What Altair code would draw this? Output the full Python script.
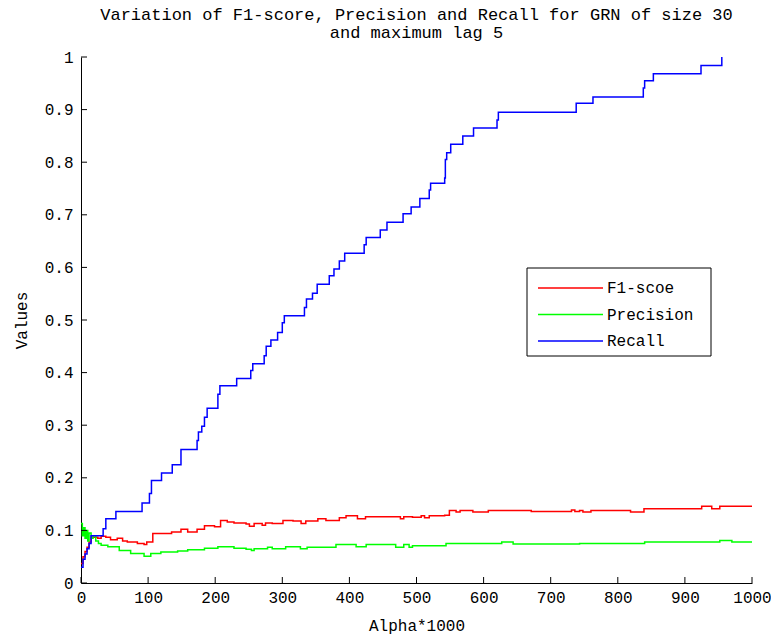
import altair as alt
import pandas as pd

# ---- data ----
recall_x = [0, 3, 6, 9, 12, 15, 33, 37, 52, 91, 102, 105, 120, 136, 149, 173, 175, 180, 184, 188,
            204, 207, 232, 253, 256, 273, 276, 283, 293, 300, 303, 333, 336, 345, 352, 370, 377,
            385, 393, 422, 425, 446, 456, 480, 492, 505, 519, 521, 542, 543, 545, 551, 569, 585,
            620, 622, 738, 763, 838, 840, 853, 924, 955]
recall_y = [0.030, 0.045, 0.055, 0.065, 0.075, 0.090, 0.103, 0.122, 0.136, 0.152, 0.170, 0.195,
            0.209, 0.225, 0.254, 0.271, 0.287, 0.298, 0.315, 0.332, 0.359, 0.375, 0.389, 0.404,
            0.417, 0.432, 0.450, 0.462, 0.476, 0.495, 0.508, 0.524, 0.540, 0.551, 0.568, 0.584,
            0.597, 0.612, 0.627, 0.643, 0.657, 0.671, 0.686, 0.702, 0.715, 0.731, 0.747, 0.760,
            0.770, 0.805, 0.818, 0.834, 0.850, 0.865, 0.880, 0.895, 0.912, 0.924, 0.941, 0.955,
            0.968, 0.984, 1.000]

f1_x = [0, 3, 6, 9, 12, 15, 25, 30, 37, 44, 54, 62, 69, 84, 94, 98, 107, 127, 135, 149, 159, 173,
        184, 199, 208, 218, 228, 246, 251, 258, 270, 275, 285, 301, 316, 328, 335, 353, 365, 385,
        395, 412, 424, 476, 481, 494, 507, 512, 519, 542, 549, 559, 565, 584, 607, 671, 731, 736,
        743, 748, 760, 819, 839, 925, 940, 952, 1000]
f1_y = [0.037, 0.050, 0.060, 0.068, 0.078, 0.087, 0.085, 0.089, 0.087, 0.082, 0.085, 0.080, 0.078,
        0.075, 0.073, 0.078, 0.094, 0.094, 0.097, 0.102, 0.097, 0.102, 0.109, 0.107, 0.119, 0.116,
        0.114, 0.112, 0.108, 0.113, 0.110, 0.114, 0.113, 0.119, 0.118, 0.113, 0.118, 0.122, 0.119,
        0.124, 0.128, 0.122, 0.126, 0.122, 0.126, 0.125, 0.128, 0.124, 0.128, 0.129, 0.138, 0.135,
        0.138, 0.135, 0.138, 0.136, 0.139, 0.136, 0.138, 0.135, 0.138, 0.135, 0.141, 0.146, 0.141,
        0.146, 0.146]

prec_x = [0, 2, 4, 6, 8, 10, 12, 15, 18, 22, 26, 30, 40, 57, 74, 94, 104, 119, 144, 159, 184, 204,
          228, 246, 254, 258, 278, 285, 305, 327, 337, 380, 410, 425, 469, 481, 489, 494, 544, 627,
          644, 743, 840, 952, 970, 1000]
prec_y = [0.113, 0.090, 0.105, 0.085, 0.100, 0.080, 0.095, 0.085, 0.090, 0.080, 0.075, 0.072,
          0.069, 0.062, 0.056, 0.051, 0.056, 0.059, 0.061, 0.063, 0.066, 0.069, 0.066, 0.064,
          0.062, 0.065, 0.068, 0.065, 0.069, 0.065, 0.068, 0.073, 0.069, 0.073, 0.068, 0.073,
          0.068, 0.071, 0.075, 0.078, 0.074, 0.075, 0.078, 0.081, 0.078, 0.078]

series_names = ["F1-scoe", "Precision", "Recall"]
series_colors = ["#ff0000", "#00ff00", "#0000ff"]

x_ticks = [0, 100, 200, 300, 400, 500, 600, 700, 800, 900, 1000]
y_ticks = [0, 0.1, 0.2, 0.3, 0.4, 0.5, 0.6, 0.7, 0.8, 0.9, 1.0]

rows = []
for name, xs, ys in [("F1-scoe", f1_x, f1_y), ("Precision", prec_x, prec_y), ("Recall", recall_x, recall_y)]:
    for i, (a, b) in enumerate(zip(xs, ys)):
        rows.append({"alpha": a, "value": b, "series": name, "order": i})
df = pd.DataFrame(rows)

W, H = 671, 526
FONT = "Liberation Mono"
FS = 16

xscale = alt.Scale(domain=[0, 1000], nice=False)
yscale = alt.Scale(domain=[0, 1], nice=False)

axis_style = dict(ticks=False, grid=False, domainColor="black", domainWidth=1, labelFlush=False,
                  labelFont=FONT, labelFontSize=FS, labelColor="black",
                  titleFont=FONT, titleFontSize=FS, titleFontWeight="normal", titleColor="black")

lines = alt.Chart(df).mark_line(interpolate="step-after", strokeWidth=1.5).encode(
    x=alt.X("alpha:Q", scale=xscale,
            axis=alt.Axis(title="Alpha*1000", values=x_ticks, labelPadding=6, titlePadding=12,
                          format="d", **axis_style)),
    y=alt.Y("value:Q", scale=yscale,
            axis=alt.Axis(title="Values", values=y_ticks, labelPadding=8, titlePadding=15,
                          format="~g", **axis_style)),
    color=alt.Color("series:N", scale=alt.Scale(domain=series_names, range=series_colors),
                    legend=None),
    order="order:Q",
    detail="series:N",
)

xt = alt.Chart(pd.DataFrame({"t": x_ticks})).mark_rule(color="black", strokeWidth=1).encode(
    x=alt.X("t:Q", scale=xscale), y=alt.value(H), y2=alt.value(H - 6))
yt = alt.Chart(pd.DataFrame({"t": y_ticks})).mark_rule(color="black", strokeWidth=1).encode(
    y=alt.Y("t:Q", scale=yscale), x=alt.value(0), x2=alt.value(6))

# ---- legend box drawn like the reference (upper-right inside the plot) ----
dummy = pd.DataFrame({"k": [0]})
LX0, LX1, LY0, LY1 = 446, 630, 211, 299
legend_layers = [
    alt.Chart(dummy).mark_rect(fill="white", stroke="black", strokeWidth=1).encode(
        x=alt.value(LX0), x2=alt.value(LX1), y=alt.value(LY0), y2=alt.value(LY1))
]
for i, (name, col) in enumerate(zip(series_names, series_colors)):
    ry = 231 + i * 26.5
    legend_layers.append(
        alt.Chart(dummy).mark_rule(color=col, strokeWidth=1.5).encode(
            x=alt.value(457), x2=alt.value(522), y=alt.value(ry)))
    legend_layers.append(
        alt.Chart(dummy).mark_text(text=name, font=FONT, fontSize=FS, color="black",
                                   align="left", baseline="middle").encode(
            x=alt.value(526), y=alt.value(ry)))

chart = alt.layer(lines, xt, yt, *legend_layers).properties(
    width=W, height=H,
    background="white",
    title=alt.TitleParams(
        text=["Variation of F1-score, Precision and Recall for GRN of size 30", "and maximum lag 5"],
        font=FONT, fontSize=17, fontWeight="normal", anchor="middle", color="black",
        lineHeight=18, offset=7),
    autosize=alt.AutoSizeParams(type="none"),
    padding={"left": 81, "top": 57, "right": 19, "bottom": 54},
).configure_view(stroke=None)

chart.save("out.html", embed_options={"renderer": "svg", "actions": False})
